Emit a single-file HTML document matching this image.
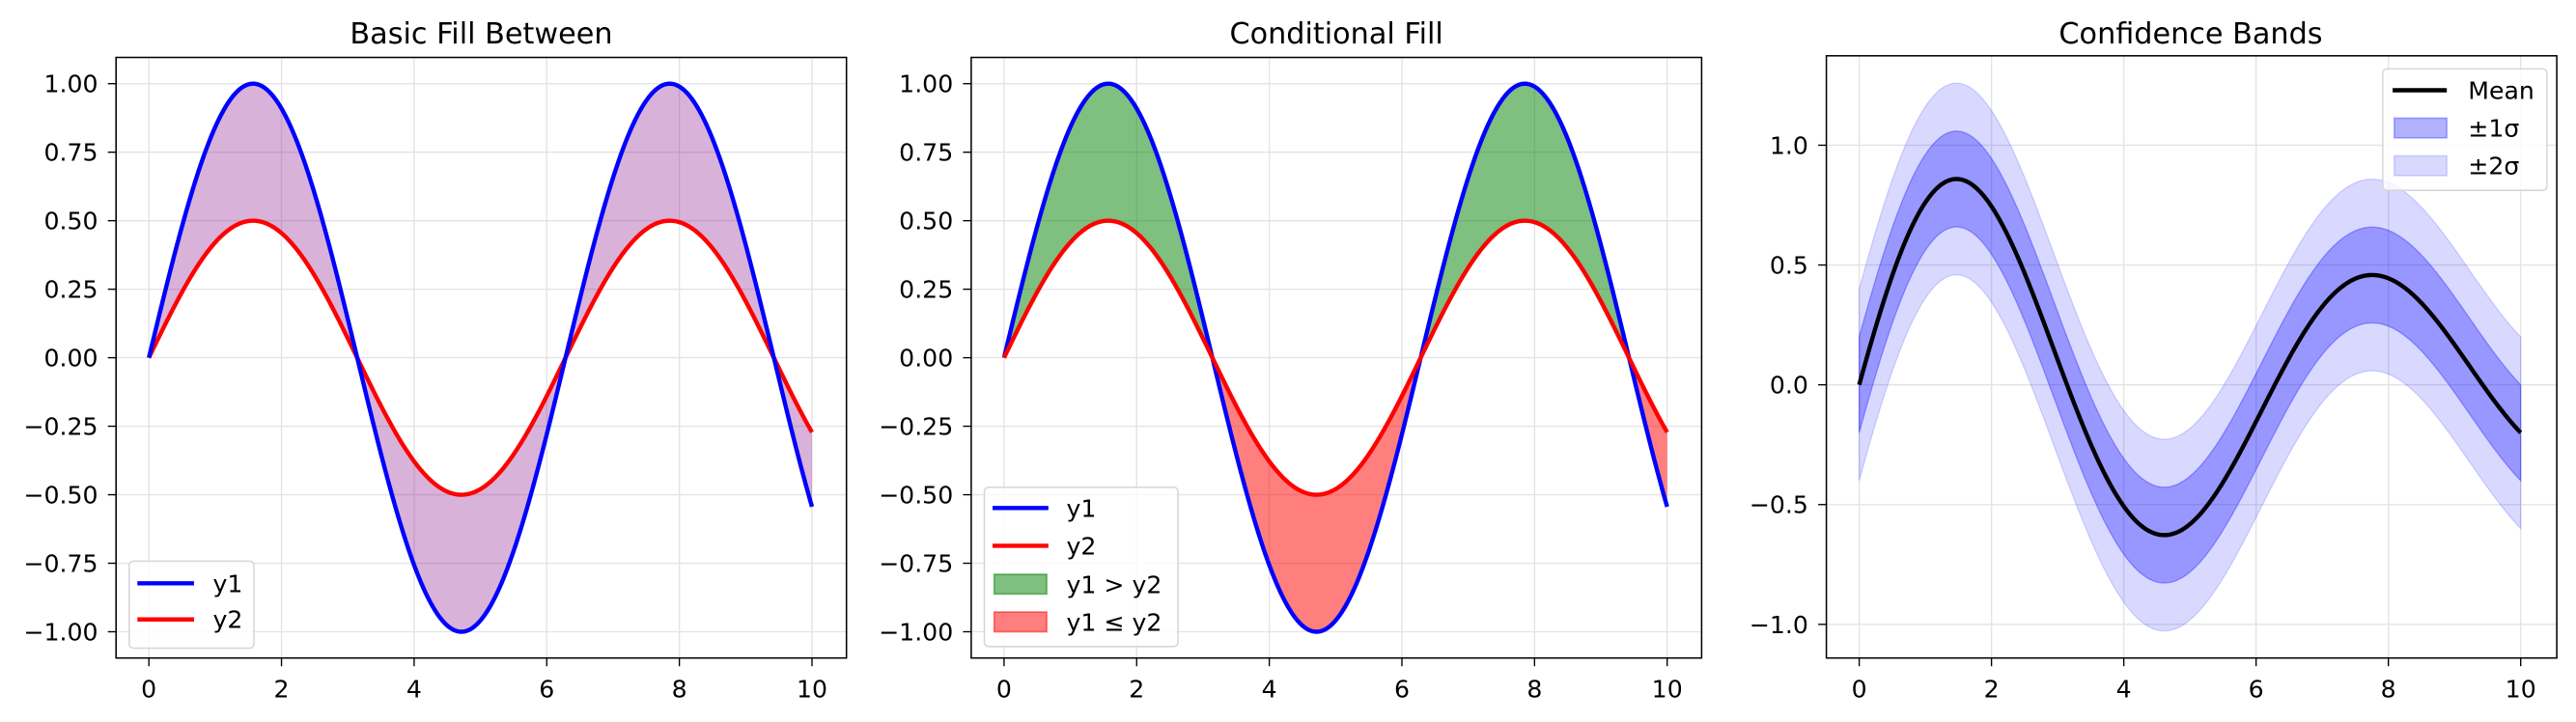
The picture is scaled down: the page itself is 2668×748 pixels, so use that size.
<!DOCTYPE html>
<html><head><meta charset="utf-8"><style>html,body{margin:0;padding:0;background:#fff}svg{display:block}</style></head>
<body>
<svg id="s" width="2668" height="748" viewBox="0 0 1568 440" xmlns="http://www.w3.org/2000/svg" font-family="'DejaVu Sans','Liberation Sans',sans-serif">
<rect width="1568" height="440" fill="#fff"/>
<g id="g"></g>
<text x="292.5" y="26.5" font-size="17.8" text-anchor="middle">Basic Fill Between</text>
<text x="813.5" y="26.5" font-size="17.8" text-anchor="middle">Conditional Fill</text>
<text x="1334" y="26.5" font-size="17.8" text-anchor="middle">Confidence Bands</text>
</svg>
<script>
var NS="http://www.w3.org/2000/svg",G=document.getElementById('g');
var FS=14.8,LW=2.6;
function el(t,a,txt){var e=document.createElementNS(NS,t);for(var k in a)e.setAttribute(k,a[k]);if(txt!==undefined)e.textContent=txt;G.appendChild(e);return e;}
var N=500,xs=[];for(var i=0;i<N;i++)xs.push(10*i/(N-1));
function P(L,R,T,B){return{L:L,R:R,T:T,B:B};}
function line(p,f,col,w){var d='';xs.forEach(function(x,i){d+=(i?'L':'M')+p.X(x).toFixed(2)+' '+p.Y(f(x)).toFixed(2)});el('path',{d:d,fill:'none',stroke:col,'stroke-width':w,'stroke-linejoin':'round'});}
function band(p,fa,fb,fill,stroke,cond){var segs=[],cur=[];xs.forEach(function(x){if(!cond||cond(x))cur.push(x);else if(cur.length){segs.push(cur);cur=[];}});if(cur.length)segs.push(cur);
segs.forEach(function(s){var d='';s.forEach(function(x,i){d+=(i?'L':'M')+p.X(x).toFixed(2)+' '+p.Y(fa(x)).toFixed(2)});for(var i=s.length-1;i>=0;i--)d+='L'+p.X(s[i]).toFixed(2)+' '+p.Y(fb(s[i])).toFixed(2);d+='Z';el('path',{d:d,fill:fill,stroke:stroke||'none','stroke-width':0.8});});}
function grid(p,xt,yt){xt.forEach(function(t){var x=p.X(t);el('line',{x1:x,x2:x,y1:p.T,y2:p.B,stroke:'#e3e3e3','stroke-width':0.8});});
yt.forEach(function(t){var y=p.Y(t);el('line',{x1:p.L,x2:p.R,y1:y,y2:y,stroke:'#e3e3e3','stroke-width':0.8});});}
function axes(p,xt,yt,ylab){el('rect',{x:p.L,y:p.T,width:p.R-p.L,height:p.B-p.T,fill:'none',stroke:'#000','stroke-width':0.9});
xt.forEach(function(t){var x=p.X(t);el('line',{x1:x,x2:x,y1:p.B,y2:p.B+5,stroke:'#000','stroke-width':0.8});el('text',{x:x,y:p.B+24,'font-size':FS,'text-anchor':'middle'},String(t));});
yt.forEach(function(t,i){var y=p.Y(t);el('line',{x1:p.L-5,x2:p.L,y1:y,y2:y,stroke:'#000','stroke-width':0.8});el('text',{x:p.L-11,y:y+5.3,'font-size':FS,'text-anchor':'end'},ylab[i]);});}
var xt=[0,2,4,6,8,10];
var y1=function(x){return Math.sin(x)},y2=function(x){return 0.5*Math.sin(x)};
var yt1=[-1,-0.75,-0.5,-0.25,0,0.25,0.5,0.75,1],yl1=['\u22121.00','\u22120.75','\u22120.50','\u22120.25','0.00','0.25','0.50','0.75','1.00'];
var p1=P(70,515,35,401);p1.X=function(x){return 90+x*40.4};p1.Y=function(y){return 218-y*167};
grid(p1,xt,yt1);band(p1,y1,y2,'rgba(128,0,128,0.3)');line(p1,y2,'#f00',LW);line(p1,y1,'#00f',LW);axes(p1,xt,yt1,yl1);
var p2=P(591,1036,35,401);p2.X=function(x){return 611+x*40.4};p2.Y=p1.Y;
grid(p2,xt,yt1);band(p2,y1,y2,'rgba(0,128,0,0.5)',null,function(x){return y1(x)>=y2(x)});band(p2,y1,y2,'rgba(255,0,0,0.5)',null,function(x){return y1(x)<=y2(x)});
line(p2,y1,'#00f',LW);line(p2,y2,'#f00',LW);axes(p2,xt,yt1,yl1);
var m=function(x){return Math.sin(x)*Math.exp(-0.1*x)};
var p3=P(1112,1557,34,401);p3.X=function(x){return 1132+x*40.3};p3.Y=function(y){return 234.5-y*146};
var yt3=[-1,-0.5,0,0.5,1],yl3=['\u22121.0','\u22120.5','0.0','0.5','1.0'];
grid(p3,xt,yt3);
band(p3,function(x){return m(x)+0.4},function(x){return m(x)-0.4},'rgba(0,0,255,0.15)','rgba(0,0,255,0.15)');
band(p3,function(x){return m(x)+0.2},function(x){return m(x)-0.2},'rgba(0,0,255,0.3)','rgba(0,0,255,0.3)');
line(p3,m,'#000',LW);axes(p3,xt,yt3,yl3);
function box(x,y,w,h){el('rect',{x:x,y:y,width:w,height:h,rx:2.5,fill:'rgba(255,255,255,0.8)',stroke:'#d6d6d6','stroke-width':0.9});}
box(78,342,76,53);
el('line',{x1:83,x2:117.5,y1:355.5,y2:355.5,stroke:'#00f','stroke-width':LW});el('text',{x:129,y:360.8,'font-size':FS},'y1');
el('line',{x1:83,x2:117.5,y1:377.5,y2:377.5,stroke:'#f00','stroke-width':LW});el('text',{x:129,y:382.8,'font-size':FS},'y2');
box(599,297,118,97);
el('line',{x1:604,x2:638,y1:309.6,y2:309.6,stroke:'#00f','stroke-width':LW});el('text',{x:649,y:315,'font-size':FS},'y1');
el('line',{x1:604,x2:638,y1:332.6,y2:332.6,stroke:'#f00','stroke-width':LW});el('text',{x:649,y:338,'font-size':FS},'y2');
el('rect',{x:605,y:350,width:32,height:12,fill:'rgba(0,128,0,0.5)',stroke:'rgba(0,128,0,0.5)'});el('text',{x:649,y:361.4,'font-size':FS},'y1 > y2');
el('rect',{x:605,y:373,width:32,height:12,fill:'rgba(255,0,0,0.5)',stroke:'rgba(255,0,0,0.5)'});el('text',{x:649,y:384.4,'font-size':FS},'y1 \u2264 y2');
box(1451,42,100,74);
el('line',{x1:1457,x2:1490,y1:55,y2:55,stroke:'#000','stroke-width':LW});el('text',{x:1503,y:60.3,'font-size':FS},'Mean');
el('rect',{x:1458,y:72,width:32,height:12,fill:'rgba(0,0,255,0.3)',stroke:'rgba(0,0,255,0.3)'});el('text',{x:1503,y:83.3,'font-size':FS},'\u00b11\u03c3');
el('rect',{x:1458,y:95,width:32,height:12,fill:'rgba(0,0,255,0.15)',stroke:'rgba(0,0,255,0.15)'});el('text',{x:1503,y:106.3,'font-size':FS},'\u00b12\u03c3');
</script>
</body></html>
